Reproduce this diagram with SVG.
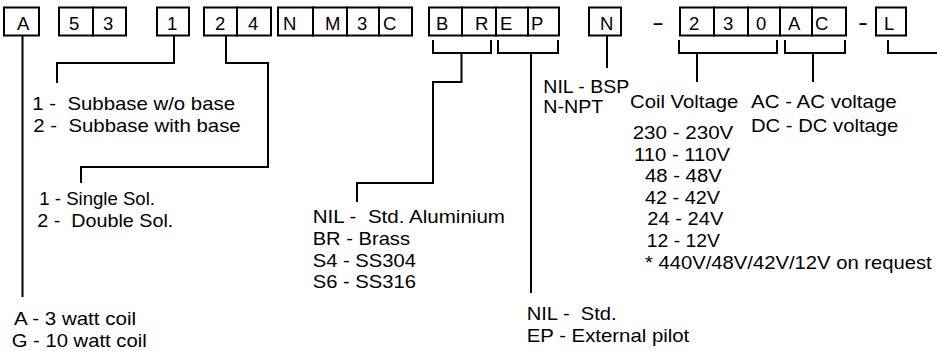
<svg xmlns="http://www.w3.org/2000/svg" width="937" height="351" viewBox="0 0 937 351">
<style>
.cell{fill:#fff;stroke:#000;stroke-width:2}
.ch{font-family:"Liberation Sans",Arial,sans-serif;font-size:18.5px;fill:#000}
.t{font-family:"Liberation Sans",Arial,sans-serif;font-size:18.5px;fill:#000;white-space:pre}
.dash{font-family:"Liberation Sans",Arial,sans-serif;font-size:18.5px;font-weight:bold;fill:#000}
.c{fill:none;stroke:#000;stroke-width:2}
</style>
<rect width="937" height="351" fill="#fff"/>
<g id="seg-A"><rect class="cell" x="4" y="7.5" width="35" height="28"/><text class="ch" x="17" y="30">A</text></g>
<g id="seg-53"><rect class="cell" x="59" y="7.5" width="34" height="28"/><rect class="cell" x="93" y="7.5" width="33" height="28"/><text class="ch" x="69" y="30">5</text><text class="ch" x="103" y="30">3</text></g>
<g id="seg-1"><rect class="cell" x="157" y="7.5" width="32" height="28"/><text class="ch" x="167" y="30">1</text></g>
<g id="seg-24NM3C"><rect class="cell" x="204" y="7.5" width="33" height="28"/><rect class="cell" x="237" y="7.5" width="34" height="28"/><rect class="cell" x="278" y="7.5" width="35" height="28"/><rect class="cell" x="313" y="7.5" width="34" height="28"/><rect class="cell" x="347" y="7.5" width="32" height="28"/><rect class="cell" x="379" y="7.5" width="33" height="28"/><text class="ch" x="215" y="30">2</text><text class="ch" x="248" y="30">4</text><text class="ch" x="283" y="30">N</text><text class="ch" x="325" y="30">M</text><text class="ch" x="357" y="30">3</text><text class="ch" x="383" y="30">C</text></g>
<g id="seg-BR"><rect class="cell" x="429" y="7.5" width="33" height="28"/><rect class="cell" x="462" y="7.5" width="34" height="28"/><text class="ch" x="436" y="30">B</text><text class="ch" x="475" y="30">R</text></g>
<g id="seg-EP"><rect class="cell" x="496" y="7.5" width="32" height="28"/><rect class="cell" x="528" y="7.5" width="31" height="28"/><text class="ch" x="500" y="30">E</text><text class="ch" x="531" y="30">P</text></g>
<g id="seg-N"><rect class="cell" x="589" y="7.5" width="32" height="28"/><text class="ch" x="600" y="30">N</text></g>
<g id="dash-1"><text class="dash" x="653" y="29" textLength="10" lengthAdjust="spacingAndGlyphs">–</text></g>
<g id="seg-230"><rect class="cell" x="680" y="7.5" width="34" height="28"/><rect class="cell" x="714" y="7.5" width="34" height="28"/><rect class="cell" x="748" y="7.5" width="32" height="28"/><text class="ch" x="689" y="30">2</text><text class="ch" x="723" y="30">3</text><text class="ch" x="756" y="30">0</text></g>
<g id="seg-AC"><rect class="cell" x="780" y="7.5" width="32" height="28"/><rect class="cell" x="812" y="7.5" width="34" height="28"/><text class="ch" x="788" y="30">A</text><text class="ch" x="815" y="30">C</text></g>
<g id="dash-2"><text class="dash" x="859" y="29" textLength="8" lengthAdjust="spacingAndGlyphs">–</text></g>
<g id="seg-L"><rect class="cell" x="876" y="7.5" width="30" height="28"/><text class="ch" x="884" y="30">L</text></g>

<g id="connectors">
<path class="c" d="M22.5,36 V297"/>
<path class="c" d="M174,36 V63 H57 V83"/>
<path class="c" d="M226,36 V63 H268 V167 H81 V183"/>
<path class="c" d="M433,40 V53 H491 V40"/>
<path class="c" d="M461.5,53 V82 H433 V183 H357 V202"/>
<path class="c" d="M498,40 V53 H558 V40"/>
<path class="c" d="M531,53 V293"/>
<path class="c" d="M607,36 V68"/>
<path class="c" d="M679,40 V53 H777 V40"/>
<path class="c" d="M697,53 V82"/>
<path class="c" d="M785,40 V53 H845 V40"/>
<path class="c" d="M813,53 V82"/>
<path class="c" d="M888,40 V53 H937"/>
</g>

<g id="legend-subbase">
<text class="t" x="32.3" y="110" textLength="202.7" lengthAdjust="spacingAndGlyphs">1 -  Subbase w/o base</text>
<text class="t" x="33.3" y="131.7" textLength="207.4" lengthAdjust="spacingAndGlyphs">2 -  Subbase with base</text>
</g>
<g id="legend-sol">
<text class="t" x="39.3" y="205" textLength="115.7" lengthAdjust="spacingAndGlyphs">1 - Single Sol.</text>
<text class="t" x="37.3" y="226.7" textLength="136" lengthAdjust="spacingAndGlyphs">2 -  Double Sol.</text>
</g>
<g id="legend-coil">
<text class="t" x="14" y="325" textLength="122" lengthAdjust="spacingAndGlyphs">A - 3 watt coil</text>
<text class="t" x="11.7" y="346.7" textLength="135" lengthAdjust="spacingAndGlyphs">G - 10 watt coil</text>
</g>
<g id="legend-material">
<text class="t" x="312.7" y="223.3" textLength="192.3" lengthAdjust="spacingAndGlyphs">NIL -  Std. Aluminium</text>
<text class="t" x="312.7" y="245" textLength="97.3" lengthAdjust="spacingAndGlyphs">BR - Brass</text>
<text class="t" x="312.7" y="266.5" textLength="103.3" lengthAdjust="spacingAndGlyphs">S4 - SS304</text>
<text class="t" x="312.7" y="288.3" textLength="103.3" lengthAdjust="spacingAndGlyphs">S6 - SS316</text>
</g>
<g id="legend-pilot">
<text class="t" x="526.7" y="320" textLength="90" lengthAdjust="spacingAndGlyphs">NIL -  Std.</text>
<text class="t" x="526.7" y="341.7" textLength="162.6" lengthAdjust="spacingAndGlyphs">EP - External pilot</text>
</g>
<g id="legend-thread">
<text class="t" x="543.3" y="92.7" textLength="86" lengthAdjust="spacingAndGlyphs">NIL - BSP</text>
<text class="t" x="543.3" y="113.3" textLength="60" lengthAdjust="spacingAndGlyphs">N-NPT</text>
</g>
<g id="legend-voltage">
<text class="t" x="630" y="108.3" textLength="108.3" lengthAdjust="spacingAndGlyphs">Coil Voltage</text>
<text class="t" x="632.7" y="139.3" textLength="100.6" lengthAdjust="spacingAndGlyphs">230 - 230V</text>
<text class="t" x="634" y="160.5" textLength="96" lengthAdjust="spacingAndGlyphs">110 - 110V</text>
<text class="t" x="645" y="182" textLength="76.7" lengthAdjust="spacingAndGlyphs">48 - 48V</text>
<text class="t" x="645" y="204" textLength="75" lengthAdjust="spacingAndGlyphs">42 - 42V</text>
<text class="t" x="647.3" y="225.3" textLength="76" lengthAdjust="spacingAndGlyphs">24 - 24V</text>
<text class="t" x="646.7" y="247" textLength="73.3" lengthAdjust="spacingAndGlyphs">12 - 12V</text>
<text class="t" x="645" y="268.5" textLength="286.7" lengthAdjust="spacingAndGlyphs">* 440V/48V/42V/12V on request</text>
</g>
<g id="legend-current">
<text class="t" x="751" y="108.3" textLength="145.7" lengthAdjust="spacingAndGlyphs">AC - AC voltage</text>
<text class="t" x="751" y="131.7" textLength="147.3" lengthAdjust="spacingAndGlyphs">DC - DC voltage</text>
</g>
</svg>
